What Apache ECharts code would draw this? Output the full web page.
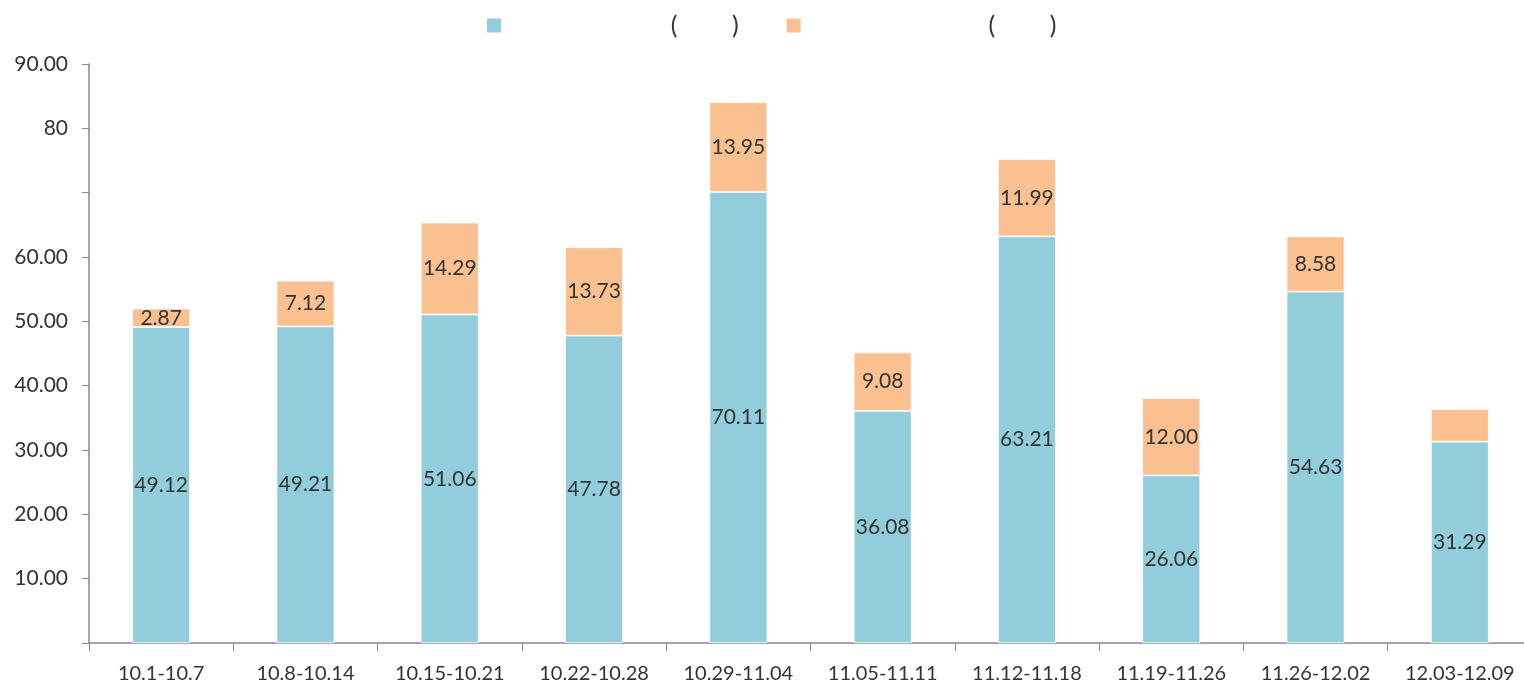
<!DOCTYPE html>
<html><head><meta charset="utf-8">
<script src="https://cdn.jsdelivr.net/npm/echarts@6/dist/echarts.min.js"></script>
<style>html,body{margin:0;padding:0;background:#fff}#c{width:1524px;height:687px}</style>
</head><body><div id="c"></div>
<script>
const categories = ['10.1-10.7','10.8-10.14','10.15-10.21','10.22-10.28','10.29-11.04','11.05-11.11','11.12-11.18','11.19-11.26','11.26-12.02','12.03-12.09'];
const seriesNames = ['新建商品房成交面积(万平米)','二手住宅网签成交面积(万平米)'];
const newHome = [49.12,49.21,51.06,47.78,70.11,36.08,63.21,26.06,54.63,31.29];
const resale = [2.87,7.12,14.29,13.73,13.95,9.08,11.99,12.00,8.58,5.08];
const yTickLabels = {0:'',10:'10.00',20:'20.00',30:'30.00',40:'40.00',50:'50.00',60:'60.00',70:'',80:'80',90:'90.00'};
const hiddenResaleLabels = [9];

const font = 'Lato, "Noto Sans", sans-serif';
const chart = echarts.init(document.getElementById('c'));
const labelStyle = {show:true, position:'inside', color:'#333', fontSize:21, fontFamily:font,
  formatter: p => Number(p.value).toFixed(2)};
chart.setOption({
  animation:false,
  legend:{top:8, left:480, itemWidth:16, itemHeight:16, itemGap:46, icon:'rect',
    textStyle:{fontSize:20, fontFamily:font, color:'#333',
      rich:{h:{color:'rgba(0,0,0,0)', fontSize:18.2, fontFamily:'"Noto Sans CJK SC"'}, p:{color:'#333', fontSize:25, fontFamily:font}}},
    formatter: name => {
      const m = name.match(/^(.*)\((.*)\)$/);
      return '{h|' + m[1] + '}{p|(}{h|' + m[2] + '}{p|)}';
    },
    data: seriesNames},
  grid:{left:89, top:64, width:1443, bottom:44, containLabel:false, outerBoundsMode:'none'},
  xAxis:{type:'category', data:categories,
    axisLine:{lineStyle:{color:'#888', width:1.5}},
    axisTick:{show:true, length:8, alignWithLabel:false, lineStyle:{color:'#888'}},
    axisLabel:{fontSize:20, color:'#333', fontFamily:font, margin:21, interval:0}},
  yAxis:{type:'value', min:0, max:90, interval:10,
    splitLine:{show:false},
    axisLine:{show:true, lineStyle:{color:'#888', width:1.5}},
    axisTick:{show:true, length:7, lineStyle:{color:'#888'}},
    axisLabel:{fontSize:21, color:'#333', fontFamily:font, margin:21, formatter: v => yTickLabels[v] ?? ''}},
  series:[
    {name:seriesNames[0], type:'bar', stack:'a', barWidth:58, data:newHome,
     itemStyle:{color:'#92CDDC', borderColor:'#ffffff', borderWidth:0.8}, label:labelStyle},
    {name:seriesNames[1], type:'bar', stack:'a', barWidth:58,
     data: resale.map((v,i) => hiddenResaleLabels.includes(i) ? {value:v, label:{show:false}} : v),
     itemStyle:{color:'#FAC090', borderColor:'#ffffff', borderWidth:0.8}, label:labelStyle}
  ]
});
</script></body></html>
